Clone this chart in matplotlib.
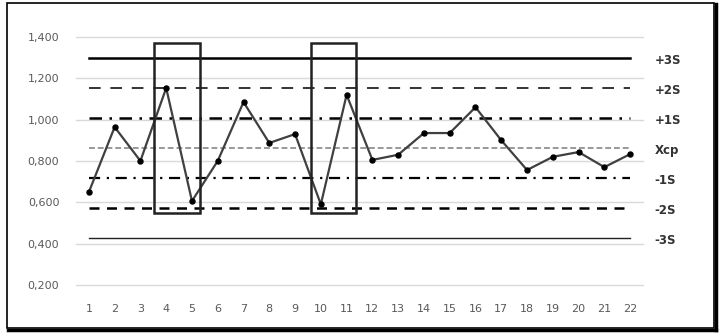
import matplotlib.pyplot as plt
from matplotlib.patches import Rectangle

samples = list(range(1, 23))
values = [0.649, 0.964, 0.800, 1.153, 0.606, 0.800, 1.085, 0.887, 0.930, 0.590, 1.120,
          0.805, 0.830, 0.935, 0.935, 1.060, 0.900, 0.756, 0.820, 0.843, 0.770, 0.833]

limit_names = ['+3S', '+2S', '+1S', 'Xcp', '-1S', '-2S', '-3S']
limit_values = [1.297, 1.152, 1.007, 0.862, 0.717, 0.572, 0.427]

# marked runs (start, end) in sample units
boxes = [(3.52, 5.30), (9.60, 11.35)]
box_low, box_high = 0.548, 1.371

fig = plt.figure(figsize=(7.27, 3.36), dpi=100)
ax = fig.add_axes([0.1045, 0.152, 0.78, 0.738])

styles = {
    '+3S': dict(color='black', lw=1.8, ls='-'),
    '+2S': dict(color='#333333', lw=1.4, ls=(0, (6, 5))),
    '+1S': dict(color='black', lw=1.8, ls=(0, (5, 3, 1, 3))),
    'Xcp': dict(color='#999999', lw=1.4, ls=(0, (3, 1.5))),
    '-1S': dict(color='black', lw=1.6, ls=(0, (5, 3, 1, 3))),
    '-2S': dict(color='black', lw=1.8, ls=(0, (4, 3))),
    '-3S': dict(color='#222222', lw=1.0, ls='-'),
}

for v in [0.2, 0.4, 0.6, 0.8, 1.0, 1.2, 1.4]:
    ax.axhline(v, color='#d9d9d9', lw=1.0, zorder=0, clip_on=False)

for name, val in zip(limit_names, limit_values):
    ax.plot([samples[0], samples[-1]], [val, val], zorder=2, **styles[name])
    ax.text(1.02, val - 0.01, name, transform=ax.get_yaxis_transform(), va='center', ha='left',
            fontsize=8.5, fontweight='semibold', color='#333333')

ax.plot(samples, values, color='#404040', lw=1.6, marker='o', markersize=3.6,
        markerfacecolor='black', markeredgecolor='black', zorder=3)

for x0, x1 in boxes:
    ax.add_patch(Rectangle((x0, box_low), x1 - x0, box_high - box_low, fill=False,
                           edgecolor='#222222', lw=1.8, zorder=4))

ax.set_xlim(0.5, 22.5)
ax.set_ylim(0.2, 1.4)
ax.set_xticks(samples)
ax.set_yticks([0.2, 0.4, 0.6, 0.8, 1.0, 1.2, 1.4])
ax.set_yticklabels(['0,200', '0,400', '0,600', '0,800', '1,000', '1,200', '1,400'])
ax.tick_params(length=0, labelsize=8, colors='#595959', pad=12)
ax.tick_params(axis='x', pad=14)
for s in ax.spines.values():
    s.set_visible(False)

# outer frame with shadow on bottom/right
fig.add_artist(Rectangle((7 / 727, 1 - 328 / 336), 707 / 727, 325 / 336, transform=fig.transFigure,
                         fill=False, edgecolor='black', lw=1.2))
fig.add_artist(plt.Line2D([8 / 727, 716 / 727], [1 - 330 / 336, 1 - 330 / 336],
                          transform=fig.transFigure, color='black', lw=2.5))
fig.add_artist(plt.Line2D([716 / 727, 716 / 727], [1 - 330 / 336, 1 - 4 / 336],
                          transform=fig.transFigure, color='black', lw=2.5))

fig.savefig('out.png', dpi=100)
